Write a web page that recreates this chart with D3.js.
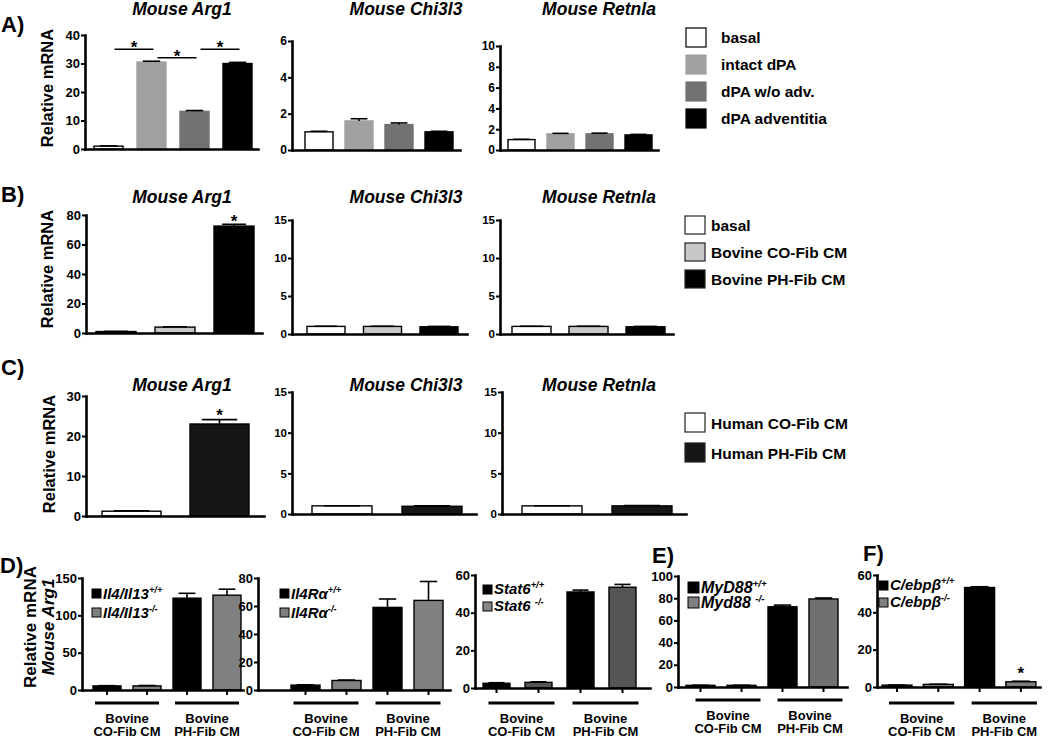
<!DOCTYPE html>
<html><head><meta charset="utf-8">
<script src="https://cdn.jsdelivr.net/npm/d3@7"></script>
<style>body{margin:0;background:#fff}svg{display:block}text{font-family:"Liberation Sans",Arial,sans-serif;}</style>
</head><body><svg id="c" width="1050" height="739"></svg>
<script>
// ---------------- DATA ----------------
const rowAcats = ["basal","intact dPA","dPA w/o adv.","dPA adventitia"];
const rowAfill = ["#ffffff","#a0a0a0","#727272","#000000"];
const aArg1 = [1.0, 30.5, 13.2, 30.0], aArg1Err = [0.1, 0.3, 0.3, 0.4];
const aChi = [1.0, 1.6, 1.4, 1.0], aChiErr = [0.03, 0.12, 0.09, 0.03];
const aRet = [1.0, 1.55, 1.55, 1.45], aRetErr = [0.03, 0.05, 0.07, 0.05];
const aArg1Ticks = [0,10,20,30,40], aChiTicks = [0,2,4,6], aRetTicks = [0,2,4,6,8,10];
const aSig = [["basal","intact dPA",35],["intact dPA","dPA w/o adv.",32],["dPA w/o adv.","dPA adventitia",35]];

const rowBcats = ["basal","Bovine CO-Fib CM","Bovine PH-Fib CM"];
const rowBfill = ["#ffffff","#c8c8c8","#000000"];
const bArg1 = [1.0, 4.0, 72.5], bArg1Err = [0.1, 0.2, 1.2];
const bChi = [1.0, 1.0, 0.95], bChiErr = [0.02, 0.02, 0.05];
const bRet = [1.0, 1.0, 0.95], bRetErr = [0.02, 0.02, 0.05];
const bArg1Ticks = [0,20,40,60,80], bSmallTicks = [0,5,10,15];

const rowCcats = ["Human CO-Fib CM","Human PH-Fib CM"];
const rowCfill = ["#ffffff","#161616"];
const cArg1 = [1.2, 23.0], cArg1Err = [0.1, 1.1];
const cChi = [1.0, 0.95], cChiErr = [0.02, 0.05];
const cRet = [1.0, 1.0], cRetErr = [0.02, 0.05];
const cArg1Ticks = [0,10,20,30], cSmallTicks = [0,5,10,15];

const genes = ["Mouse Arg1","Mouse Chi3l3","Mouse Retnla"];
const dGroups = [["Bovine","CO-Fib CM"],["Bovine","PH-Fib CM"]];
const dCats = ["CO wt","CO ko","PH wt","PH ko"];
const d1Vals = [5.5, 5.5, 123, 127], d1Err = [0.3, 0.5, 6.5, 8];
const d2Vals = [3.5, 6.8, 59, 64], d2Err = [0.2, 0.3, 6, 13.5];
const d3Vals = [2.5, 3.0, 51, 53.5], d3Err = [0.3, 0.3, 1, 1.5];
const eVals = [1.5, 1.5, 72.3, 79.3], eErr = [0.1, 0.1, 1.5, 0.9];
const fVals = [1.0, 1.4, 53.3, 2.8], fErr = [0.05, 0.1, 0.4, 0.3];
const d1Ticks = [0,50,100,150], d2Ticks = [0,20,40,60,80], d3Ticks = [0,20,40,60];
const eTicks = [0,20,40,60,80,100], fTicks = [0,20,40,60];
const d1Geno = [["Il4/Il13","+/+"],["Il4/Il13","-/-"]];
const d2Geno = [["Il4R\u03b1","+/+"],["Il4R\u03b1","-/-"]];
const d3Geno = [["Stat6","+/+"],["Stat6 ","-/-"]];
const eGeno = [["MyD88","+/+"],["Myd88 ","-/-"]];
const fGeno = [["C/ebp\u03b2","+/+"],["C/ebp\u03b2","-/-"]];

// ---------------- DRAW ----------------
const svg = d3.select("#c");
svg.append("rect").attr("width",1050).attr("height",739).attr("fill","#fff");

function panel(o){
  const g = svg.append("g");
  const n = o.cats.length;
  const pi = 1 - o.bw/o.step;
  const leftover = (o.x1 - o.x0) - o.step*(n - pi);
  const po = leftover/(2*o.step);
  const align = (o.first - o.x0)/leftover;
  const x = d3.scaleBand().domain(o.cats).range([o.x0,o.x1]).paddingInner(pi).paddingOuter(po).align(align);
  const y = d3.scaleLinear().domain([0,o.max]).range([o.y0,o.yTop]);
  const bw = x.bandwidth();
  g.selectAll("rect.bar").data(o.vals).join("rect").attr("class","bar")
    .attr("x",(d,i)=>x(o.cats[i])).attr("y",d=>y(d))
    .attr("width",bw).attr("height",d=>o.y0-y(d))
    .attr("fill",(d,i)=>o.fill[i]).attr("stroke",(d,i)=>o.stroke?o.stroke[i]:"#000").attr("stroke-width",1.4);
  o.vals.forEach((v,i)=>{
    const cx = x(o.cats[i])+bw/2, e = o.err[i];
    const cw = bw*0.3;
    g.append("line").attr("x1",cx).attr("x2",cx).attr("y1",y(v)).attr("y2",y(v+e)).attr("stroke","#000").attr("stroke-width",1.6);
    g.append("line").attr("x1",cx-cw).attr("x2",cx+cw).attr("y1",y(v+e)).attr("y2",y(v+e)).attr("stroke","#000").attr("stroke-width",1.6);
  });
  const ya = g.append("g").attr("transform",`translate(${o.x0},0)`)
    .call(d3.axisLeft(y).tickValues(o.ticks).tickFormat(d3.format("d")).tickSize(4).tickSizeOuter(0).tickPadding(1));
  ya.select(".domain").attr("stroke-width",2.6).attr("stroke-linecap","square");
  ya.selectAll(".tick line").attr("stroke-width",2);
  ya.selectAll(".tick text").attr("font-size",o.tf).attr("font-weight","bold").attr("fill","#000")
    .attr("font-family","'Liberation Sans',Arial,sans-serif");
  const xa = g.append("g").attr("transform",`translate(0,${o.y0})`)
    .call(d3.axisBottom(x).tickSize(o.xt||0).tickSizeOuter(0).tickFormat(""));
  xa.select(".domain").attr("stroke-width",2.6).attr("stroke-linecap","square");
  xa.selectAll(".tick line").attr("stroke-width",2);
  if(o.title) g.append("text").attr("x",o.tx).attr("y",o.ty).attr("text-anchor","middle")
    .attr("font-size",17.5).attr("font-weight","bold").attr("font-style","italic").text(o.title);
  return {x,y,bw,g};
}
function star(x,y){
  svg.append("text").attr("x",x).attr("y",y).attr("text-anchor","middle").attr("font-size",17).attr("font-weight","bold").text("*");
}
function ylab(x,y,t,italic,fs){
  svg.append("text").attr("transform",`translate(${x},${y}) rotate(-90)`).attr("text-anchor","middle")
    .attr("font-size",fs||16.5).attr("font-weight","bold").attr("font-style",italic?"italic":"normal").text(t);
}
function letter(x,y,t){
  svg.append("text").attr("x",x).attr("y",y).attr("font-size",22).attr("font-weight","bold").text(t);
}

// Row A
const A1 = panel({cats:rowAcats,vals:aArg1,err:aArg1Err,fill:rowAfill,stroke:["#000","#a0a0a0","#727272","#000"],ticks:aArg1Ticks,max:40,
  x0:85,x1:258,y0:149,yTop:35,first:94,step:43,bw:29,tf:13,title:genes[0],tx:182,ty:15});
panel({cats:rowAcats,vals:aChi,err:aChiErr,fill:rowAfill,stroke:["#000","#a0a0a0","#727272","#000"],ticks:aChiTicks,max:6,
  x0:292,x1:460,y0:150,yTop:41,first:305,step:40,bw:28,tf:12,title:genes[1],tx:406,ty:15});
panel({cats:rowAcats,vals:aRet,err:aRetErr,fill:rowAfill,stroke:["#000","#a0a0a0","#727272","#000"],ticks:aRetTicks,max:10,
  x0:500,x1:658,y0:150,yTop:46,first:508,step:39,bw:27,tf:12,title:genes[2],tx:599,ty:15});
aSig.forEach((s,k)=>{
  const xa = A1.x(s[0])+A1.bw/2+6, xb = A1.x(s[1])+A1.bw/2+2, yy = A1.y(s[2]);
  svg.append("line").attr("x1",xa).attr("x2",xb).attr("y1",yy).attr("y2",yy).attr("stroke","#000").attr("stroke-width",1.5);
  star((xa+xb)/2, yy+4);
});
letter(1,32,"A)");
ylab(53,88,"Relative mRNA");
rowAcats.forEach((c,i)=>{
  svg.append("rect").attr("x",686).attr("y",28+27*i).attr("width",20).attr("height",19)
    .attr("fill",rowAfill[i]).attr("stroke",i===0?"#000":rowAfill[i]).attr("stroke-width",1.2);
  svg.append("text").attr("x",721).attr("y",43+27*i).attr("font-size",15.5).attr("font-weight","bold").text(c);
});

// Row B
const B1 = panel({cats:rowBcats,vals:bArg1,err:bArg1Err,fill:rowBfill,ticks:bArg1Ticks,max:80,
  x0:86,x1:262,y0:333,yTop:215,first:96,step:59,bw:40,tf:13,title:genes[0],tx:182,ty:203});
panel({cats:rowBcats,vals:bChi,err:bChiErr,fill:rowBfill,ticks:bSmallTicks,max:15,
  x0:292,x1:467,y0:334,yTop:220,first:307,step:56.5,bw:38,tf:11.5,title:genes[1],tx:406,ty:203});
panel({cats:rowBcats,vals:bRet,err:bRetErr,fill:rowBfill,ticks:bSmallTicks,max:15,
  x0:500,x1:673,y0:334,yTop:220,first:512,step:57,bw:39,tf:11.5,title:genes[2],tx:599,ty:203});
star(B1.x(rowBcats[2])+B1.bw/2, B1.y(bArg1[2]+bArg1Err[2])+3);
letter(1,202,"B)");
ylab(53,269,"Relative mRNA");
rowBcats.forEach((c,i)=>{
  svg.append("rect").attr("x",685).attr("y",216+27*i).attr("width",20).attr("height",18)
    .attr("fill",rowBfill[i]).attr("stroke","#222").attr("stroke-width",1.2);
  svg.append("text").attr("x",711).attr("y",231+27*i).attr("font-size",15.5).attr("font-weight","bold").text(c);
});

// Row C
const C1 = panel({cats:rowCcats,vals:cArg1,err:cArg1Err,fill:rowCfill,ticks:cArg1Ticks,max:30,
  x0:86,x1:264,y0:516,yTop:396,first:102,step:88,bw:59,tf:13,title:genes[0],tx:182,ty:391});
panel({cats:rowCcats,vals:cChi,err:cChiErr,fill:rowCfill,ticks:cSmallTicks,max:15,
  x0:292,x1:476,y0:514,yTop:392,first:312,step:90,bw:60,tf:11.5,title:genes[1],tx:406,ty:391});
panel({cats:rowCcats,vals:cRet,err:cRetErr,fill:rowCfill,ticks:cSmallTicks,max:15,
  x0:502,x1:686,y0:514,yTop:392,first:522,step:90,bw:60,tf:11.5,title:genes[2],tx:599,ty:391});
star(C1.x(rowCcats[1])+C1.bw/2, C1.y(cArg1[1]+cArg1Err[1])+1);
letter(1,375,"C)");
ylab(55,454,"Relative mRNA");
rowCcats.forEach((c,i)=>{
  svg.append("rect").attr("x",685).attr("y",413+30*i).attr("width",20).attr("height",19)
    .attr("fill",rowCfill[i]).attr("stroke","#222").attr("stroke-width",1.2);
  svg.append("text").attr("x",711).attr("y",429+30*i).attr("font-size",15.5).attr("font-weight","bold").text(c);
});

// Row D/E/F
function dpanel(o){
  const p = panel(Object.assign({cats:dCats,xt:5,tf:13},o));
  o.geno.forEach((gt,i)=>{
    svg.append("rect").attr("x",o.lx).attr("y",o.ly[i]).attr("width",o.ls).attr("height",o.ls)
      .attr("fill",o.lfill[i]).attr("stroke","#000").attr("stroke-width",1);
    const t = svg.append("text").attr("x",o.lx+o.ls+2).attr("y",o.lb[i]).attr("font-size",o.lf)
      .attr("font-weight","bold").attr("font-style","italic");
    t.append("tspan").text(gt[0]);
    t.append("tspan").attr("dy",-6).attr("font-size",o.lf*0.62).text(gt[1]);
  });
  [[0,1],[2,3]].forEach((pr,k)=>{
    const xa = p.x(dCats[pr[0]])+p.bw/2-12+(o.gdx||0), xb = p.x(dCats[pr[1]])+p.bw/2+12+(o.gdx||0);
    svg.append("line").attr("x1",xa).attr("x2",xb).attr("y1",o.gy).attr("y2",o.gy).attr("stroke","#000").attr("stroke-width",3);
    const t = svg.append("text").attr("text-anchor","middle").attr("font-size",13).attr("font-weight","bold");
    t.append("tspan").attr("x",(xa+xb)/2).attr("y",o.gy+20).text(dGroups[k][0]);
    t.append("tspan").attr("x",(xa+xb)/2).attr("y",o.gy+33).text(dGroups[k][1]);
  });
  return p;
}
dpanel({vals:d1Vals,err:d1Err,fill:["#000","#808080","#000","#808080"],ticks:d1Ticks,max:150,
  x0:82,x1:243,y0:690,yTop:578,first:93,step:40,bw:28,
  geno:d1Geno,lfill:["#000","#808080"],lx:92,ly:[589,608],ls:9,lb:[599,618],lf:15,gy:703});
dpanel({vals:d2Vals,err:d2Err,fill:["#000","#808080","#000","#808080"],ticks:d2Ticks,max:80,
  x0:258,x1:450,y0:690,yTop:578,first:291,step:41,bw:29,
  geno:d2Geno,lfill:["#000","#808080"],lx:280,ly:[589,608],ls:9,lb:[599,618],lf:15,gy:703});
dpanel({vals:d3Vals,err:d3Err,fill:["#000","#555555","#000","#555555"],ticks:d3Ticks,max:60,
  x0:475,x1:650,y0:688,yTop:575,first:483,step:42,bw:27,
  geno:d3Geno,lfill:["#000","#888"],lx:483,ly:[585,602],ls:9,lb:[594,611],lf:15,gy:703,gdx:4});
dpanel({vals:eVals,err:eErr,fill:["#000","#707070","#000","#707070"],ticks:eTicks,max:100,
  x0:678,x1:847,y0:687,yTop:576,first:686,step:41,bw:29,
  geno:eGeno,lfill:["#000","#808080"],lx:688,ly:[582,597],ls:11,lb:[593,608],lf:16,gy:700,gdx:7});
const F = dpanel({vals:fVals,err:fErr,fill:["#000","#808080","#000","#808080"],ticks:fTicks,max:60,
  x0:877,x1:1040,y0:687,yTop:575,first:882,step:41.3,bw:30,
  geno:fGeno,lfill:["#000","#808080"],lx:879,ly:[581,598],ls:9,lb:[590,607],lf:15,gy:703,gdx:4});
star(F.x(dCats[3])+F.bw/2, F.y(fVals[3]+fErr[3])-2);
letter(0,573,"D)");
letter(652,563,"E)");
letter(863,561,"F)");
ylab(36,627,"Relative mRNA",false,17);
ylab(54,627,"Mouse Arg1",true,17);
</script></body></html>
